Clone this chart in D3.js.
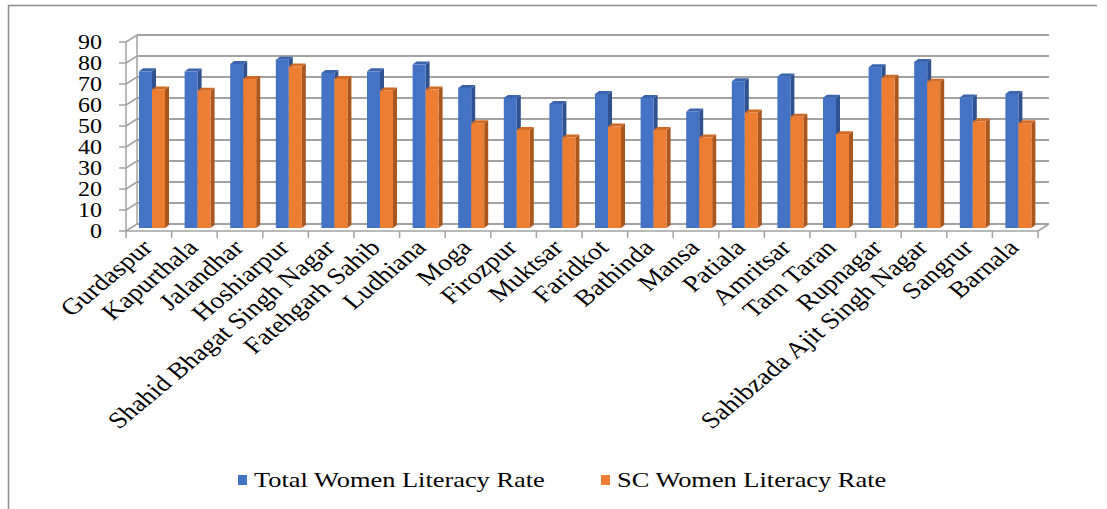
<!DOCTYPE html>
<html>
<head>
<meta charset="utf-8">
<script src="https://cdn.jsdelivr.net/npm/d3@7"></script>
<style>
  body { margin: 0; background: #fff; }
  svg text { font-family: "Liberation Serif", "Times New Roman", serif; fill: #000; }
</style>
</head>
<body>
<div class="container"></div>
<script>
const districts = ['Gurdaspur', 'Kapurthala', 'Jalandhar', 'Hoshiarpur', 'Shahid Bhagat Singh Nagar',
  'Fatehgarh Sahib', 'Ludhiana', 'Moga', 'Firozpur', 'Muktsar', 'Faridkot', 'Bathinda', 'Mansa',
  'Patiala', 'Amritsar', 'Tarn Taran', 'Rupnagar', 'Sahibzada Ajit Singh Nagar', 'Sangrur', 'Barnala']
const seriesNames = ['Total Women Literacy Rate', 'SC Women Literacy Rate']
const totalRate = [74.6, 74.5, 78.1, 80.1, 73.8, 74.6, 77.8, 66.7, 61.9, 59.1, 63.8, 61.9, 55.5,
  69.9, 72.2, 62.0, 76.6, 79.1, 62.1, 63.8]
const scRate = [66.0, 65.4, 71.0, 76.9, 71.0, 65.5, 65.9, 49.9, 46.7, 43.1, 48.3, 46.7, 43.1,
  55.0, 53.0, 44.7, 71.5, 69.7, 50.7, 49.9]
const yTicks = [0, 10, 20, 30, 40, 50, 60, 70, 80, 90]

const colors = ['#4472C4', '#ED7D31']
const sideColors = ['#2F528F', '#A9561F']
const topColors = ['#3B64AE', '#D06A25']

const W = 1107, H = 509
const stretch = 1.2   // the picture is a bit wide, text looks stretched
const depthX = 11, depthY = 7   // front axis -> back wall
const barDX = 5, barDY = 3       // bars sit mid depth
const sideX = 4, sideY = 3       // bar thickness

const rows = districts.map((d, i) => ({ name: d, values: [totalRate[i], scRate[i]] }))

const svg = d3.select('.container').append('svg')
  .attr('width', W)
  .attr('height', H)

// outer frame (top + left only visible)
svg.append('line').attr('x1', 8).attr('x2', 1097).attr('y1', 5.5).attr('y2', 5.5)
  .attr('stroke', '#8c8c8c').attr('stroke-width', 1.5)
svg.append('line').attr('x1', 8.5).attr('x2', 8.5).attr('y1', 5).attr('y2', H)
  .attr('stroke', '#8c8c8c').attr('stroke-width', 1.5)

const x = d3.scaleBand().domain(districts).range([126, 1038])
const xSub = d3.scaleBand().domain(seriesNames).range([8, 34])
const y = d3.scaleLinear().domain([0, 90]).range([231, 42])

const grid = '#a2a2a2'

// back wall gridlines
svg.append('g').selectAll('line')
  .data(yTicks)
  .enter()
  .append('line')
  .attr('x1', 126 + depthX)
  .attr('x2', 1038 + depthX)
  .attr('y1', d => y(d) - depthY)
  .attr('y2', d => y(d) - depthY)
  .attr('stroke', grid)
  .attr('stroke-width', 2)

// left wall diagonals + ticks
const left = svg.append('g')
left.selectAll('.diag')
  .data(yTicks)
  .enter()
  .append('line')
  .attr('x1', 126).attr('x2', 126 + depthX)
  .attr('y1', d => y(d)).attr('y2', d => y(d) - depthY)
  .attr('stroke', grid).attr('stroke-width', 1.5)
left.selectAll('.tick')
  .data(yTicks)
  .enter()
  .append('line')
  .attr('x1', 119).attr('x2', 126)
  .attr('y1', d => y(d)).attr('y2', d => y(d))
  .attr('stroke', grid).attr('stroke-width', 1.5)
left.append('line')
  .attr('x1', 126).attr('x2', 126).attr('y1', y(90)).attr('y2', y(0))
  .attr('stroke', grid).attr('stroke-width', 1.5)
left.append('line')
  .attr('x1', 126 + depthX).attr('x2', 126 + depthX).attr('y1', y(90) - depthY).attr('y2', y(0) - depthY)
  .attr('stroke', grid).attr('stroke-width', 1.5)

// floor
svg.append('path')
  .attr('d', `M126,${y(0)}L1038,${y(0)}L${1038 + depthX},${y(0) - depthY}`)
  .attr('fill', 'none').attr('stroke', grid).attr('stroke-width', 1.5)

// x ticks
svg.append('g').selectAll('line')
  .data(districts.concat(['end']))
  .enter()
  .append('line')
  .attr('x1', (d, i) => 126 + i * x.bandwidth())
  .attr('x2', (d, i) => 126 + i * x.bandwidth())
  .attr('y1', y(0)).attr('y2', y(0) + 7)
  .attr('stroke', grid).attr('stroke-width', 1.5)

// bars
const bars = []
rows.forEach(r => {
  r.values.forEach((v, k) => {
    bars.push({ name: r.name, series: seriesNames[k], k: k, value: v })
  })
})

const barG = svg.append('g').selectAll('g')
  .data(bars)
  .enter()
  .append('g')

const bx = d => x(d.name) + xSub(d.series) + barDX
const bw = xSub.bandwidth()
const by0 = y(0) - barDY
const byTop = d => y(d.value) - barDY

barG.append('path')
  .attr('d', d => {
    const x1 = bx(d) + bw, t = byTop(d)
    return `M${x1},${t}L${x1 + sideX},${t - sideY}L${x1 + sideX},${by0 - sideY}L${x1},${by0}Z`
  })
  .attr('fill', d => sideColors[d.k])

barG.append('path')
  .attr('d', d => {
    const x0 = bx(d), t = byTop(d)
    return `M${x0},${t}L${x0 + sideX},${t - sideY}L${x0 + bw + sideX},${t - sideY}L${x0 + bw},${t}Z`
  })
  .attr('fill', d => topColors[d.k])

barG.append('rect')
  .attr('x', bx)
  .attr('y', byTop)
  .attr('width', bw)
  .attr('height', d => by0 - byTop(d))
  .attr('fill', d => colors[d.k])

// y labels
svg.append('g').selectAll('text')
  .data(yTicks)
  .enter()
  .append('text')
  .attr('transform', d => `translate(102,${y(d)}) scale(${stretch},1)`)
  .attr('dy', '0.35em')
  .attr('text-anchor', 'end')
  .style('font-size', '20px')
  .text(d => d)

// x labels
svg.append('g').selectAll('text')
  .data(districts)
  .enter()
  .append('text')
  .attr('transform', d => `translate(${x(d) + x.bandwidth() / 2 + 5},${y(0) + 18}) scale(${stretch},1) rotate(-45)`)
  .attr('text-anchor', 'end')
  .style('font-size', '23px')
  .text(d => d)

// legend
const legend = svg.append('g').selectAll('g')
  .data(seriesNames)
  .enter()
  .append('g')
  .attr('transform', (d, i) => `translate(${i === 0 ? 238 : 601},475)`)
legend.append('rect')
  .attr('width', 9).attr('height', 10)
  .attr('fill', (d, i) => colors[i])
legend.append('text')
  .attr('transform', `translate(16,12) scale(${stretch},1)`)
  .style('font-size', '22px')
  .text(d => d)
</script>
</body>
</html>
